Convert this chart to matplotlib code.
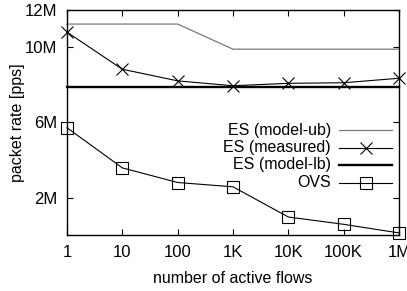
import matplotlib
matplotlib.use("Agg")
import matplotlib.pyplot as plt
from matplotlib.lines import Line2D

plt.rcParams['font.family'] = ['Liberation Sans', 'DejaVu Sans']

flows = [1, 10, 100, 1e3, 1e4, 1e5, 1e6]
x_tick_labels = ["1", "10", "100", "1K", "10K", "100K", "1M"]
y_ticks = [2e6, 6e6, 10e6, 12e6]
y_tick_labels = ["2M", "6M", "10M", "12M"]

es_model_ub = [11.25e6, 11.25e6, 11.25e6, 9.91e6, 9.91e6, 9.91e6, 9.91e6]
es_measured = [10.82e6, 8.84e6, 8.22e6, 7.96e6, 8.09e6, 8.12e6, 8.36e6]
es_model_lb = [7.88e6] * 7
ovs = [5.72e6, 3.58e6, 2.80e6, 2.57e6, 0.96e6, 0.57e6, 0.11e6]

W, H = 407, 291
fig = plt.figure(figsize=(W / 100, H / 100), dpi=100)
L, R, T, B = 67, 399, 10, 235
ax = fig.add_axes([L / W, (H - B) / H, (R - L) / W, (B - T) / H])

ub_color = '#7a7a7a'
styles = [
    dict(color=ub_color, lw=0.9),
    dict(color='black', lw=0.8, marker='x', ms=8, mew=0.8),
    dict(color='black', lw=1.7),
    dict(color='black', lw=0.8, marker='s', ms=8, mew=0.8, mfc='none'),
]
labels = ['ES (model-ub)', 'ES (measured)', 'ES (model-lb)', 'OVS']
series = [es_model_ub, es_measured, es_model_lb, ovs]
for ys, st in zip(series, styles):
    ax.plot(flows, ys, clip_on=False, **st)

ax.set_xscale('log')
ax.set_xlim(1, 1e6)
ax.set_ylim(0, 12e6)
ax.set_xticks(flows)
ax.set_xticklabels(x_tick_labels)
ax.minorticks_off()
ax.set_yticks(y_ticks)
ax.set_yticklabels(y_tick_labels)
ax.tick_params(direction='in', length=4, width=0.8, top=True, right=True,
               labelsize=12, pad=7)
for s in ax.spines.values():
    s.set_linewidth(1.0)

ax.set_xlabel('number of active flows', fontsize=11.5, labelpad=8)
ax.set_ylabel('packet rate [pps]', fontsize=11.5)
ax.yaxis.set_label_coords((25 - L) / (R - L), 0.5)

# manual legend (right-aligned text, sample on right)
def ax_x(px):
    return (px - L) / (R - L)

def ax_y(py):
    return (B - py) / (B - T)

row_y = [130, 147.5, 165, 182.5]
for lab, st, py in zip(labels, styles, row_y):
    ax.text(ax_x(331), ax_y(py), lab, transform=ax.transAxes, ha='right',
            va='center', fontsize=11.5)
    lst = dict(st)
    mk = lst.pop('marker', None)
    ln = Line2D([ax_x(339), ax_x(392)], [ax_y(py)] * 2, transform=ax.transAxes,
                **{k: v for k, v in lst.items() if k not in ('ms', 'mew', 'mfc')})
    ax.add_line(ln)
    if mk:
        mopts = {k: v for k, v in lst.items() if k in ('ms', 'mew', 'mfc', 'color')}
        ax.add_line(Line2D([ax_x(365.5)], [ax_y(py)], transform=ax.transAxes,
                           marker=mk, ls='none', **mopts))

fig.savefig('out.png', dpi=100)
